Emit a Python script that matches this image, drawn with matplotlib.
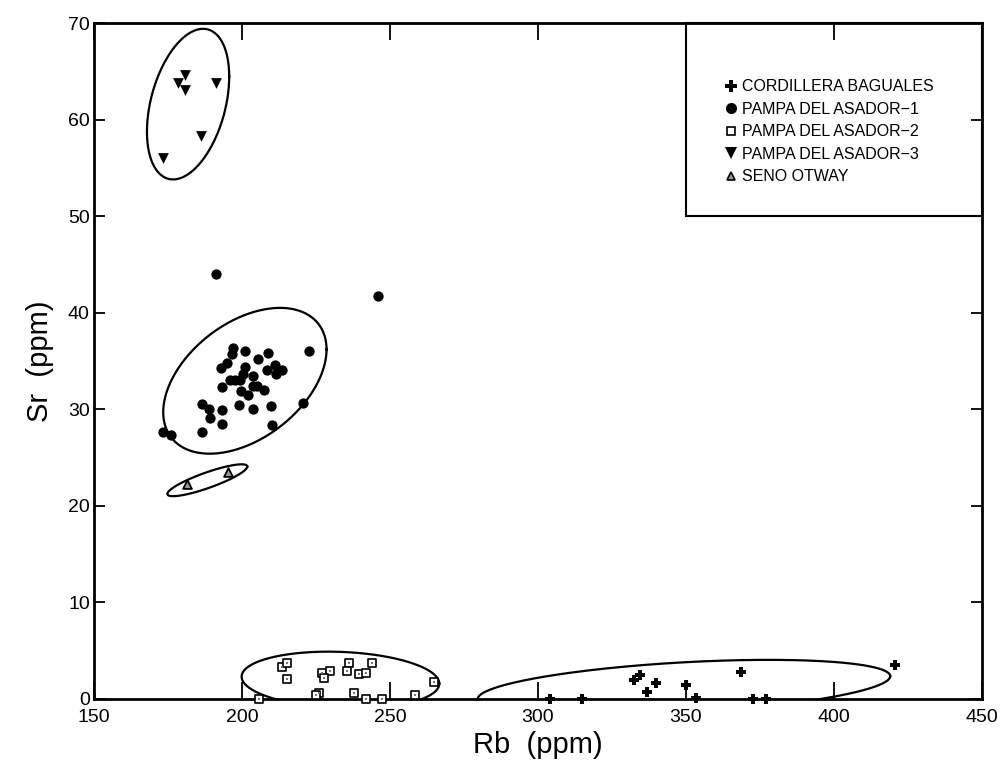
import numpy as np
import matplotlib
matplotlib.use('Agg')
import matplotlib.pyplot as plt
from matplotlib.lines import Line2D
from matplotlib.patches import Rectangle

# --- data (Rb, Sr in ppm) ---
cb_rb = [304.1, 314.8, 332.5, 334.5, 339.9, 337.0, 350.0, 353.6, 368.8, 372.7, 377.0, 420.6]
cb_sr = [0.0, 0.0, 2.0, 2.5, 1.7, 0.7, 1.4, 0.1, 2.8, 0.0, 0.0, 3.5]

pa1_rb = [191.2, 245.9, 222.7, 173.4, 175.9, 186.4, 193.1, 189.2, 186.4, 188.9,
          193.3, 199.1, 203.6, 209.8, 210.2, 220.5, 193.1, 199.7, 202.1, 207.4,
          196.0, 197.6, 203.8, 197.0, 196.8, 201.1, 208.9, 205.6, 194.8, 192.8,
          201.0, 200.4, 203.8, 208.5, 211.1, 213.4, 211.5, 199.3, 205.0]
pa1_sr = [44.0, 41.7, 36.0, 27.6, 27.3, 27.6, 28.5, 29.1, 30.5, 30.0,
          29.9, 30.4, 30.0, 30.3, 28.4, 30.6, 32.3, 31.9, 31.5, 32.0,
          33.0, 33.0, 32.4, 36.3, 35.7, 36.0, 35.8, 35.2, 34.8, 34.3,
          34.4, 33.7, 33.4, 34.1, 34.6, 34.1, 33.7, 33.0, 32.4]

pa2_rb = [213.4, 215.1, 215.3, 227.2, 229.7, 227.7, 236.1, 235.4, 244.1, 239.5,
          241.9, 265.0, 226.1, 225.2, 237.9, 241.8, 247.2, 205.8, 258.4]
pa2_sr = [3.35, 3.75, 2.05, 2.65, 2.9, 2.15, 3.7, 2.9, 3.75, 2.55,
          2.65, 1.8, 0.65, 0.4, 0.6, 0.0, 0.0, 0.0, 0.4]

pa3_rb = [180.7, 178.5, 180.7, 191.4, 186.1, 173.4]
pa3_sr = [64.6, 63.8, 63.1, 63.8, 58.3, 56.0]

so_rb = [181.3, 195.2]
so_sr = [22.3, 23.5]

# ellipses: centre x, centre y, half-width x, half-height y, phase (deg)
ell_cx = [349.4, 201.0, 233.3, 181.8, 188.3]
ell_cy = [1.18, 32.95, 1.95, 61.6, 22.65]
ell_rx = [69.7, 27.6, 33.4, 13.9, 13.5]
ell_ry = [2.87, 7.55, 2.95, 7.8, 1.65]
ell_ph = [65.8, 64.5, 97.0, 68.6, 31.0]

labels = ['CORDILLERA BAGUALES', 'PAMPA DEL ASADOR\u22121',
          'PAMPA DEL ASADOR\u22122', 'PAMPA DEL ASADOR\u22123', 'SENO OTWAY']

fnt = ['Liberation Sans', 'DejaVu Sans']

fig = plt.figure(figsize=(10.03, 7.72), dpi=100)
ax = fig.add_axes([0.0937, 0.0946, 0.885, 0.8756])

# ellipses
t = np.linspace(0, 2 * np.pi, 400)
for cx, cy, rx, ry, ph in zip(ell_cx, ell_cy, ell_rx, ell_ry, ell_ph):
    ax.plot(cx + rx * np.cos(t), cy + ry * np.cos(t - np.radians(ph)),
            color='black', lw=1.6, zorder=2)

ax.scatter(cb_rb, cb_sr, marker='P', s=55, c='black', lw=0, zorder=4, clip_on=False)
ax.scatter(pa1_rb, pa1_sr, marker='o', s=55, c='black', lw=0, zorder=4)
ax.scatter(pa2_rb, pa2_sr, marker='s', s=36, facecolor='white', edgecolor='black',
           lw=1.2, zorder=4, clip_on=False)
ax.scatter(pa2_rb, pa2_sr, marker='s', s=4, c='#777777', lw=0, zorder=5, clip_on=False)
ax.scatter(pa3_rb, pa3_sr, marker='v', s=60, c='black', lw=0, zorder=4)
ax.scatter(so_rb, so_sr, marker='^', s=40, facecolor='#999999', edgecolor='black',
           lw=1.3, zorder=4)

ax.set_xlim(150, 450)
ax.set_ylim(0, 70)
ax.set_xticks(np.arange(150, 451, 50))
ax.set_yticks(np.arange(0, 71, 10))
ax.tick_params(direction='in', length=12, width=1.3, top=True, right=True,
               labelsize=14)
ax.tick_params(axis='x', pad=7)
ax.tick_params(axis='y', length=8, pad=3)
for lab in ax.get_xticklabels() + ax.get_yticklabels():
    lab.set_family(fnt)
for sp in ax.spines.values():
    sp.set_linewidth(2)

ax.set_xlabel('Rb  (ppm)', fontsize=21, family=fnt, labelpad=4)
ax.set_ylabel('Sr  (ppm)', fontsize=21, family=fnt, labelpad=10)

# legend box
ax.add_patch(Rectangle((350, 50), 100, 20, fill=False, lw=1.5, ec='black',
                       zorder=6, clip_on=False))
handles = [
    Line2D([], [], ls='', marker='P', ms=8, color='black', mew=0),
    Line2D([], [], ls='', marker='o', ms=8, color='black', mew=0),
    Line2D([], [], ls='', marker='s', ms=6, mfc='white', mec='black', mew=1.2),
    Line2D([], [], ls='', marker='v', ms=8, color='black', mew=0),
    Line2D([], [], ls='', marker='^', ms=6, mfc='#999999', mec='black', mew=1.2),
]
ax.legend(handles, labels, loc='upper left', bbox_to_anchor=(0.705, 0.926),
          frameon=False, handlelength=0.6, handletextpad=0.4, labelspacing=0.47,
          borderaxespad=0, prop={'family': fnt, 'size': 11.5})

plt.savefig('out.png', dpi=100)
